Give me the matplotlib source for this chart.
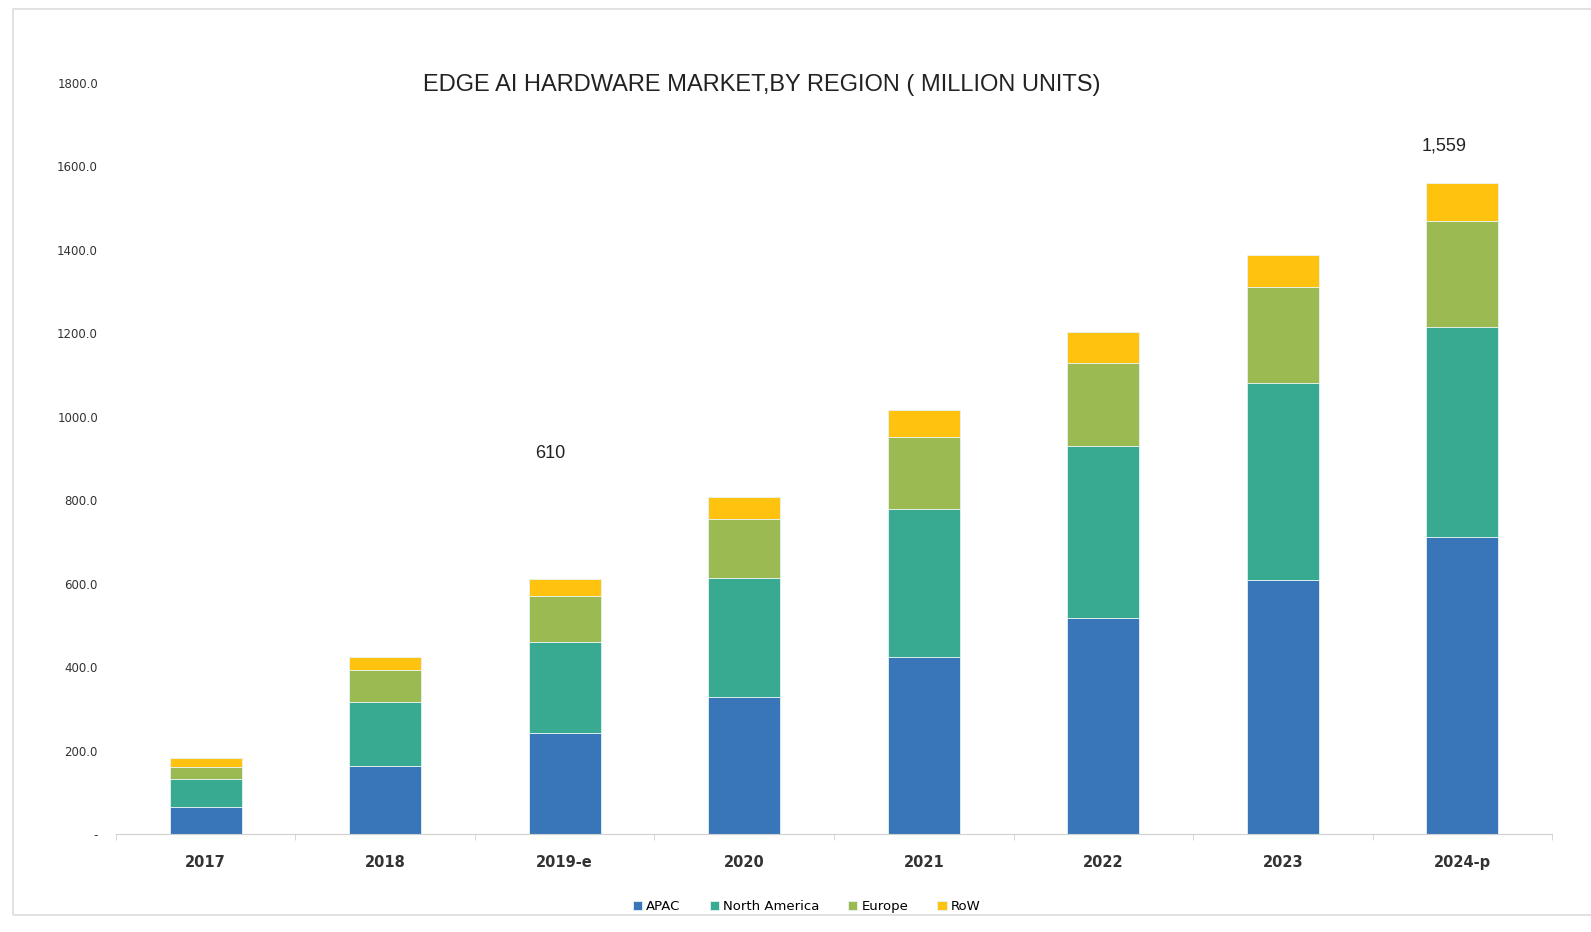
import matplotlib
matplotlib.use("Agg")
import matplotlib.pyplot as plt
from matplotlib.patches import Rectangle
from matplotlib.ticker import FuncFormatter, FixedLocator
import numpy as np

years = ["2017", "2018", "2019-e", "2020", "2021", "2022", "2023", "2024-p"]
apac = [65, 163, 242, 328, 424, 517, 608, 711]
north_america = [67, 153, 218, 285, 354, 412, 472, 503]
europe = [28, 77, 110, 141, 173, 199, 230, 254]
row = [22, 31, 40, 53, 65, 74, 77, 91]
series_names = ["APAC", "North America", "Europe", "RoW"]
colors = ["#3976B9", "#38AA91", "#9CBA52", "#FFC20E"]
annotations = {2: "610", 7: "1,559"}
yticks = [0, 200, 400, 600, 800, 1000, 1200, 1400, 1600, 1800]

plt.rcParams['font.family'] = ['Liberation Sans', 'DejaVu Sans']

fig = plt.figure(figsize=(15.91, 9.32), dpi=100)
ax = fig.add_axes([0.0729, 0.1052, 0.9026, 0.8058])

x = np.arange(len(years))
bottom = np.zeros(len(years))
handles = []
for name, vals, c in zip(series_names, [apac, north_america, europe, row], colors):
    h = ax.bar(x, vals, width=0.4, bottom=bottom, color=c, label=name,
               edgecolor="#E6F4F4", linewidth=0.6)
    handles.append(h)
    bottom += np.array(vals)

ann_offsets = {2: (-0.08, 303), 7: (-0.10, 91)}
for i, txt in annotations.items():
    dx, dy = ann_offsets[i]
    ax.text(x[i] + dx, bottom[i] + dy, txt,
            ha="center", va="center", fontsize=13, color="#222222")

ax.set_xlim(-0.5, len(years) - 0.5)
ax.set_ylim(0, 1800)
ax.set_yticks(yticks)
ax.yaxis.set_major_formatter(FuncFormatter(lambda v, p: "-" if v == 0 else f"{v:.1f}"))
ax.tick_params(axis="y", length=0, pad=13)
for lab in ax.get_yticklabels():
    lab.set_family("DejaVu Sans")
    lab.set_fontsize(8.5)
    lab.set_color("#333333")
ax.set_xticks(x)
ax.set_xticklabels(years, fontsize=10.5, fontweight="bold", color="#333333",
                   family="DejaVu Sans")
ax.tick_params(axis="x", length=0, pad=15)
ax.xaxis.set_minor_locator(FixedLocator(np.arange(-0.5, len(years), 1.0)))
ax.tick_params(axis="x", which="minor", length=4, color="#D0D0D0")

for s in ["top", "right", "left"]:
    ax.spines[s].set_visible(False)
ax.spines["bottom"].set_color("#D0D0D0")

fig.text(0.4785, 0.909, "EDGE AI HARDWARE MARKET,BY REGION ( MILLION UNITS)",
         ha="center", va="center", fontsize=17, color="#222222")

leg = fig.legend(handles=handles, labels=series_names, loc="center",
                 bbox_to_anchor=(0.507, 0.027), ncol=4, frameon=False,
                 prop={"family": "DejaVu Sans", "size": 9.5},
                 handlelength=0.7, handleheight=0.7,
                 handletextpad=0.3, columnspacing=2.2)

fig.patches.append(Rectangle((0.008, 0.018), 1.2, 0.972, transform=fig.transFigure,
                             fill=False, edgecolor="#DDDDDD", linewidth=1.2))

fig.savefig("out.png", dpi=100)
